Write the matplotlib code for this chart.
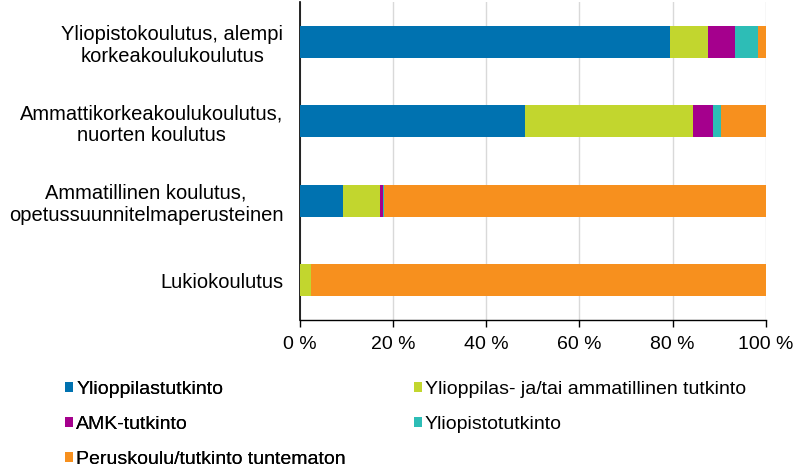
import numpy as np
import matplotlib.pyplot as plt

# Categories (top to bottom) and series shares in percent
categories = [
    "Yliopistokoulutus, alempi\nkorkeakoulukoulutus",
    "Ammattikorkeakoulukoulutus,\nnuorten koulutus",
    "Ammatillinen koulutus,\nopetussuunnitelmaperusteinen",
    "Lukiokoulutus",
]
series_names = [
    "Ylioppilastutkinto",
    "Ylioppilas- ja/tai ammatillinen tutkinto",
    "AMK-tutkinto",
    "Yliopistotutkinto",
    "Peruskoulu/tutkinto tuntematon",
]
ylioppilas = [79.5, 48.2, 9.2, 0.0]
yo_tai_amm = [8.0, 36.1, 7.9, 2.3]
amk = [5.8, 4.3, 0.7, 0.0]
yliopisto = [5.1, 1.8, 0.2, 0.0]
peruskoulu = [1.6, 9.6, 82.0, 97.7]
tick_values = [0, 20, 40, 60, 80, 100]
tick_labels = ["0 %", "20 %", "40 %", "60 %", "80 %", "100 %"]

colors = ["#0072B0", "#C2D62E", "#A5008D", "#2DBDB6", "#F7901E"]

plt.rcParams['font.family'] = ['Liberation Sans', 'DejaVu Sans']
fs = 14

fig = plt.figure(figsize=(7.96, 4.68), dpi=100)
ax = fig.add_axes([0.377, 0.316, 0.585, 0.680])

y = np.arange(len(categories))
left = np.zeros(len(categories))
handles = []
for name, vals, c in zip(series_names,
                         [ylioppilas, yo_tai_amm, amk, yliopisto, peruskoulu],
                         colors):
    h = ax.barh(y, vals, left=left, height=0.4, color=c, label=name, zorder=3)
    handles.append(h)
    left += np.array(vals)

ax.set_ylim(3.5, -0.5)
ax.set_xlim(0, 100)
ax.set_yticks(y)
ax.set_yticklabels(categories, fontsize=14.5, linespacing=1.2,
                   multialignment='center')
ax.tick_params(axis='y', length=0, pad=12)
ax.set_xticks(tick_values)
ax.set_xticklabels(tick_labels, fontsize=fs)
ax.tick_params(axis='x', length=5, width=1, color='black', pad=6.5)
ax.grid(axis='x', color='#d9d9d9', linewidth=1, zorder=0)
for s in ['top', 'right']:
    ax.spines[s].set_visible(False)
ax.spines['left'].set_color('black')
ax.spines['bottom'].set_color('black')
ax.spines['left'].set_linewidth(1.2)
ax.spines['bottom'].set_linewidth(1.0)

leg_kw = dict(loc='upper left', frameon=False, fontsize=fs,
              handlelength=0.42, handleheight=0.42, handletextpad=0.15,
              labelspacing=0.93, borderaxespad=0, borderpad=0)
leg1 = fig.legend([handles[i] for i in [0, 2, 4]],
                  [series_names[i] for i in [0, 2, 4]],
                  bbox_to_anchor=(0.0817, 0.186), **leg_kw)
fig.add_artist(leg1)
fig.legend([handles[i] for i in [1, 3]],
           [series_names[i] for i in [1, 3]],
           bbox_to_anchor=(0.520, 0.186), **leg_kw)

plt.savefig("out.png", dpi=100)
